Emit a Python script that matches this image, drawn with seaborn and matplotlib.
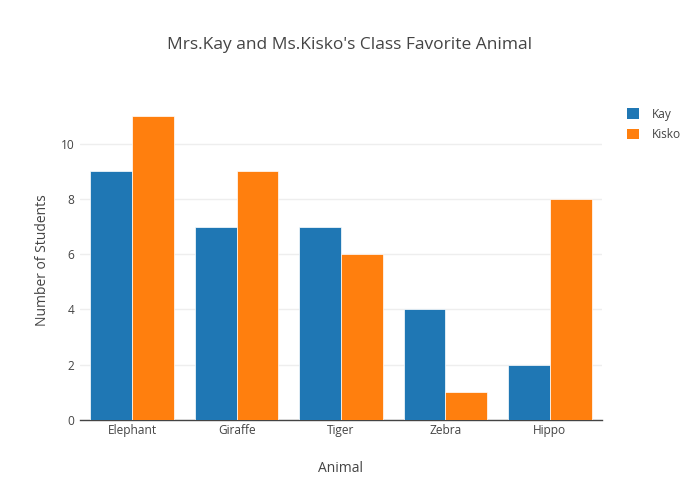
import matplotlib
matplotlib.use("Agg")
import matplotlib.pyplot as plt
import seaborn as sns
import pandas as pd
from matplotlib.patches import Patch

animals = ["Elephant", "Giraffe", "Tiger", "Zebra", "Hippo"]
kay = [9, 7, 7, 4, 2]
kisko = [11, 9, 6, 1, 8]
series_names = ["Kay", "Kisko"]
colors = ["#1f77b4", "#ff7f0e"]

df = pd.DataFrame({
    "Animal": animals * 2,
    "Students": kay + kisko,
    "Class": [series_names[0]] * len(animals) + [series_names[1]] * len(animals),
})

sns.set_style("white")
plt.rcParams['font.family'] = ['Open Sans', 'DejaVu Sans']

fig = plt.figure(figsize=(7, 5), dpi=100)
ax = fig.add_axes([80/700, 80/500, 522/700, 320/500])

sns.barplot(data=df, x="Animal", y="Students", hue="Class", palette=colors,
            saturation=1, width=0.8, ax=ax, edgecolor="white", linewidth=0.5,
            legend=False, errorbar=None, zorder=3)

ax.set_ylim(0, 11.58)
ax.set_xlim(-0.5, 4.5)
ax.set_yticks([0, 2, 4, 6, 8, 10])
ax.yaxis.grid(True, color="#eeeeee", linewidth=1, zorder=0)
ax.set_axisbelow(True)
for s in ["top", "right", "left"]:
    ax.spines[s].set_visible(False)
ax.spines["bottom"].set_color("#444444")
ax.spines["bottom"].set_linewidth(1)
ax.tick_params(axis="both", length=0, labelsize=8.6, colors="#444444", pad=4)
ax.tick_params(axis="x", pad=3)
ax.set_xlabel("Animal", fontsize=10, color="#444444", labelpad=17)
ax.set_ylabel("Number of Students", fontsize=10, color="#444444", labelpad=8)

fig.text(0.5, 1 - 45/500, "Mrs.Kay and Ms.Kisko's Class Favorite Animal",
         ha="center", va="center", fontsize=12.5, color="#444444")

handles = [Patch(facecolor=c, edgecolor="none") for c in colors]
leg = fig.legend(handles, series_names, loc="upper left",
                 bbox_to_anchor=(622/700, 1 - 103/500), frameon=False,
                 fontsize=8.6, handlelength=1.0, handleheight=1.0,
                 handletextpad=1.1, labelspacing=0.6, borderaxespad=0)
for t in leg.get_texts():
    t.set_color("#444444")

fig.savefig("out.png", dpi=100)
